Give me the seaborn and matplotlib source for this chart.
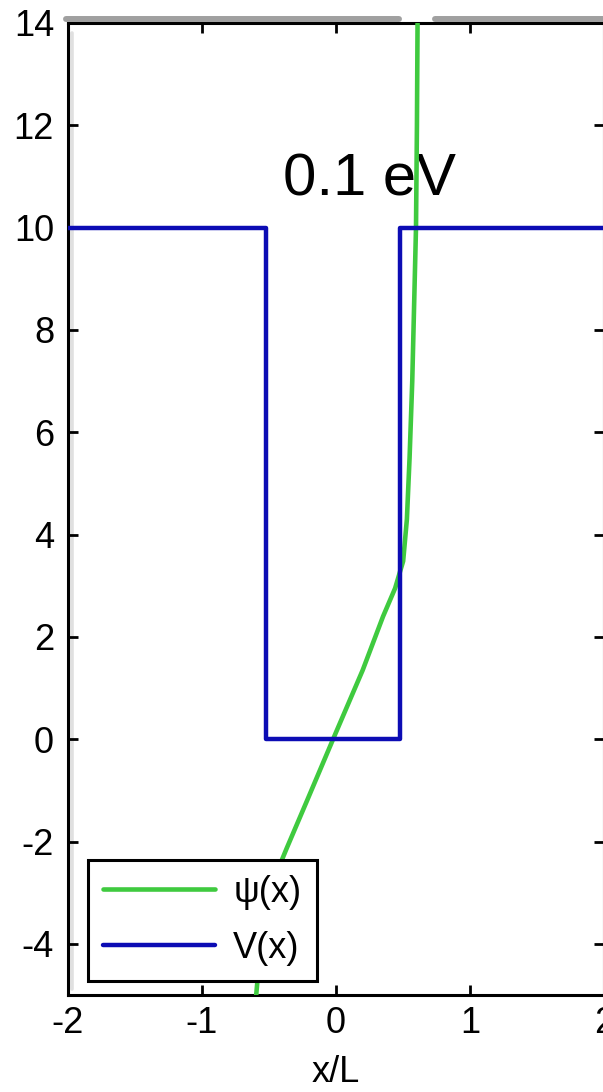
import matplotlib
matplotlib.use("Agg")
import matplotlib.pyplot as plt
from matplotlib.lines import Line2D
import seaborn as sns
import pandas as pd

# ---- data ----
psi_x = [-0.600, -0.594, -0.575, -0.550, -0.520, -0.367, -0.217, 0.000, 0.200,
         0.352, 0.442, 0.502, 0.530, 0.550, 0.570, 0.585, 0.598, 0.605, 0.610]
psi_y = [-5.30, -4.97, -4.40, -3.80, -3.10, -2.13, -1.21, 0.13, 1.35,
         2.40, 2.95, 3.48, 4.30, 5.50, 7.00, 8.60, 10.00, 12.00, 14.20]

v_x = [-2.0, -0.52, -0.52, 0.475, 0.475, 2.0]
v_y = [10.0, 10.0, 0.0, 0.0, 10.0, 10.0]

x_ticks = [-2, -1, 0, 1, 2]
y_ticks = [-4, -2, 0, 2, 4, 6, 8, 10, 12, 14]
energy_label = "0.1 eV"
series_names = ["\u03c8(x)", "V(x)"]
x_label = "x/L"

sns.set_style("ticks")
plt.rcParams["font.family"] = ["Liberation Sans", "DejaVu Sans"]
plt.rcParams["text.color"] = "black"
plt.rcParams["xtick.labelcolor"] = "black"
plt.rcParams["ytick.labelcolor"] = "black"
plt.rcParams["axes.labelcolor"] = "black"

W, H = 603, 1092
fig = plt.figure(figsize=(W / 100, H / 100), dpi=100)
left_px, right_px, top_px, bottom_px = 68.0, 603.8, 23.0, 995.0
ax = fig.add_axes([left_px / W, 1 - bottom_px / H,
                   (right_px - left_px) / W, (bottom_px - top_px) / H])

GREEN = "#3fca3f"
BLUE = "#0c0cb4"

df_psi = pd.DataFrame({"x": psi_x, "y": psi_y})
df_v = pd.DataFrame({"x": v_x, "y": v_y})

sns.lineplot(data=df_psi, x="x", y="y", sort=False, estimator=None,
             color=GREEN, lw=3.3, ax=ax, label=series_names[0], zorder=3)
sns.lineplot(data=df_v, x="x", y="y", sort=False, estimator=None,
             color=BLUE, lw=3.2, ax=ax, label=series_names[1], zorder=4)

ax.set_xlim(-2, 2)
ax.set_ylim(-5, 14)
ax.set_xticks(x_ticks)
ax.set_yticks(y_ticks)
ax.set_xticklabels([str(t) for t in x_ticks])
ax.set_yticklabels([str(t) for t in y_ticks])
ax.tick_params(direction="in", top=True, right=True, length=7, width=2,
               labelsize=26, color="black", labelcolor="black")
ax.tick_params(axis="y", pad=10)
ax.tick_params(axis="x", pad=8)
for s in ax.spines.values():
    s.set_linewidth(2.2)
    s.set_color("black")
ax.set_xlabel(x_label, fontsize=26, labelpad=10, color="black")
ax.set_ylabel("")

ax.text(0.25, 10.93, energy_label, fontsize=43, ha="center", va="center",
        color="black", zorder=2)

# faint rendering artifacts of the original
ax.plot([0.008, 0.008], [0.006, 0.99], transform=ax.transAxes, color="#e0e0e0",
        lw=2.6, zorder=0.5, clip_on=False)
fig.add_artist(Line2D([66 / W, 399 / W], [1 - 19 / H, 1 - 19 / H],
                      transform=fig.transFigure, color="#a0a0a0", lw=4.3))
fig.add_artist(Line2D([435 / W, 1.0], [1 - 19 / H, 1 - 19 / H],
                      transform=fig.transFigure, color="#a0a0a0", lw=4.3))

leg = ax.legend(loc="lower left", bbox_to_anchor=(0.0375, 0.0145),
                borderaxespad=0, fontsize=26, frameon=True, fancybox=False,
                handlelength=3.1, handletextpad=0.5, borderpad=0.42,
                labelspacing=0.58, edgecolor="black")
leg.get_frame().set_linewidth(2.2)
leg.get_frame().set_alpha(1)
for t in leg.get_texts():
    t.set_color("black")

fig.savefig("out.png", dpi=100)
